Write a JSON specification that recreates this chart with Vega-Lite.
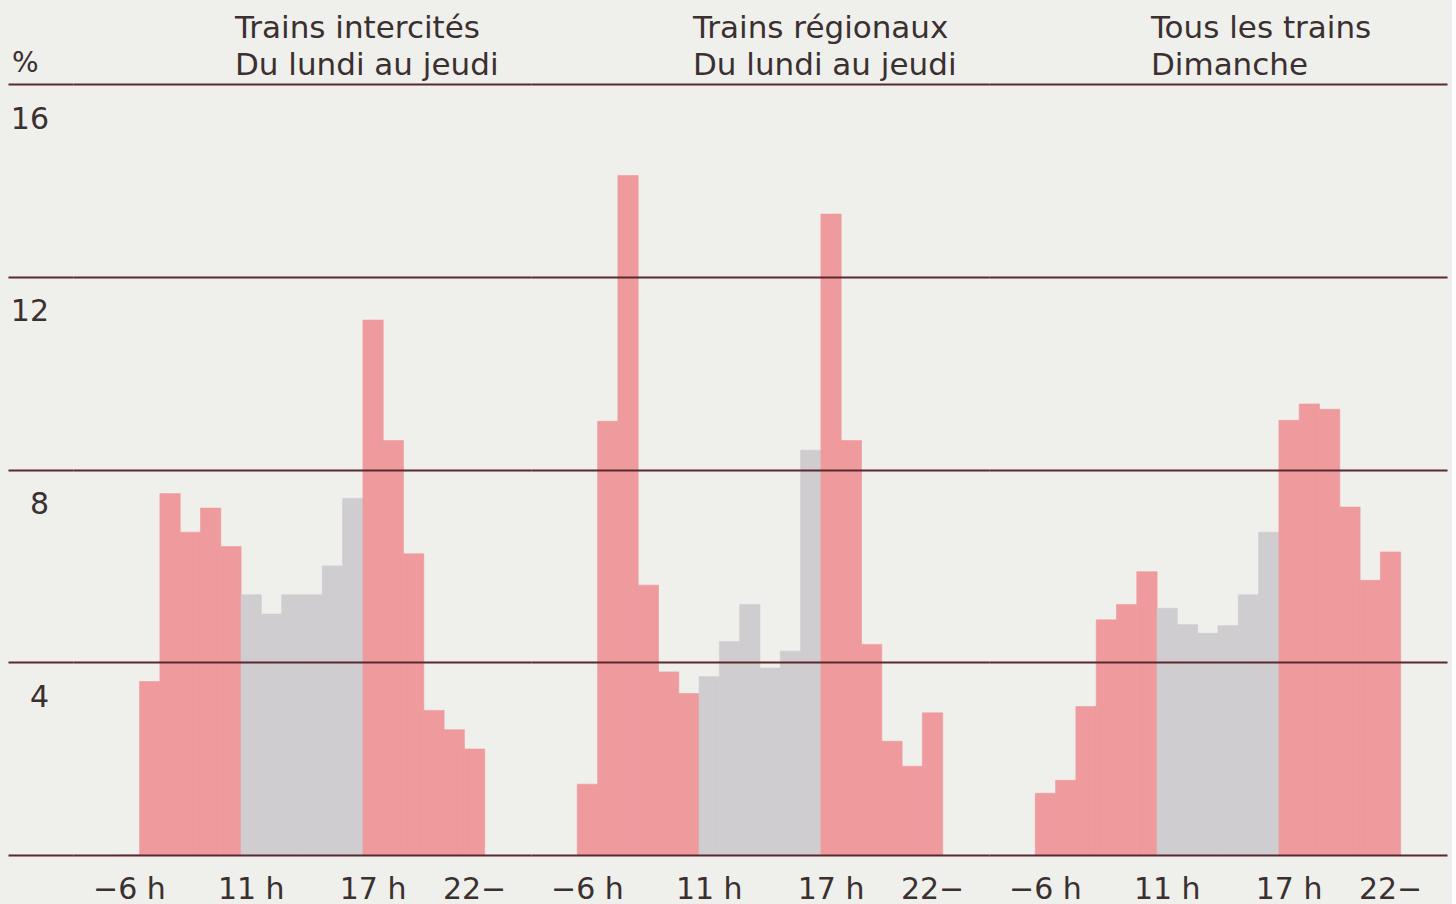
{
  "$schema": "https://vega.github.io/schema/vega-lite/v6.json",
  "background": "#efefec",
  "padding": {"left": 7, "top": 13, "right": 5, "bottom": 5},
  "datasets": {
    "trains": [
      {"p": "Trains intercités\nDu lundi au jeudi", "s": 1, "v": 0, "t": "pointe"},
      {"p": "Trains intercités\nDu lundi au jeudi", "s": 2, "v": 3.6, "t": "pointe"},
      {"p": "Trains intercités\nDu lundi au jeudi", "s": 3, "v": 7.5, "t": "pointe"},
      {"p": "Trains intercités\nDu lundi au jeudi", "s": 4, "v": 6.7, "t": "pointe"},
      {"p": "Trains intercités\nDu lundi au jeudi", "s": 5, "v": 7.2, "t": "pointe"},
      {"p": "Trains intercités\nDu lundi au jeudi", "s": 6, "v": 6.4, "t": "pointe"},
      {"p": "Trains intercités\nDu lundi au jeudi", "s": 7, "v": 5.4, "t": "creuse"},
      {"p": "Trains intercités\nDu lundi au jeudi", "s": 8, "v": 5.0, "t": "creuse"},
      {"p": "Trains intercités\nDu lundi au jeudi", "s": 9, "v": 5.4, "t": "creuse"},
      {"p": "Trains intercités\nDu lundi au jeudi", "s": 10, "v": 5.4, "t": "creuse"},
      {"p": "Trains intercités\nDu lundi au jeudi", "s": 11, "v": 6.0, "t": "creuse"},
      {"p": "Trains intercités\nDu lundi au jeudi", "s": 12, "v": 7.4, "t": "creuse"},
      {"p": "Trains intercités\nDu lundi au jeudi", "s": 13, "v": 11.1, "t": "pointe"},
      {"p": "Trains intercités\nDu lundi au jeudi", "s": 14, "v": 8.6, "t": "pointe"},
      {"p": "Trains intercités\nDu lundi au jeudi", "s": 15, "v": 6.25, "t": "pointe"},
      {"p": "Trains intercités\nDu lundi au jeudi", "s": 16, "v": 3.0, "t": "pointe"},
      {"p": "Trains intercités\nDu lundi au jeudi", "s": 17, "v": 2.6, "t": "pointe"},
      {"p": "Trains intercités\nDu lundi au jeudi", "s": 18, "v": 2.2, "t": "pointe"},
      {"p": "Trains régionaux\nDu lundi au jeudi", "s": 1, "v": 1.47, "t": "pointe"},
      {"p": "Trains régionaux\nDu lundi au jeudi", "s": 2, "v": 9.0, "t": "pointe"},
      {"p": "Trains régionaux\nDu lundi au jeudi", "s": 3, "v": 14.1, "t": "pointe"},
      {"p": "Trains régionaux\nDu lundi au jeudi", "s": 4, "v": 5.6, "t": "pointe"},
      {"p": "Trains régionaux\nDu lundi au jeudi", "s": 5, "v": 3.8, "t": "pointe"},
      {"p": "Trains régionaux\nDu lundi au jeudi", "s": 6, "v": 3.35, "t": "pointe"},
      {"p": "Trains régionaux\nDu lundi au jeudi", "s": 7, "v": 3.7, "t": "creuse"},
      {"p": "Trains régionaux\nDu lundi au jeudi", "s": 8, "v": 4.43, "t": "creuse"},
      {"p": "Trains régionaux\nDu lundi au jeudi", "s": 9, "v": 5.2, "t": "creuse"},
      {"p": "Trains régionaux\nDu lundi au jeudi", "s": 10, "v": 3.88, "t": "creuse"},
      {"p": "Trains régionaux\nDu lundi au jeudi", "s": 11, "v": 4.23, "t": "creuse"},
      {"p": "Trains régionaux\nDu lundi au jeudi", "s": 12, "v": 8.4, "t": "creuse"},
      {"p": "Trains régionaux\nDu lundi au jeudi", "s": 13, "v": 13.3, "t": "pointe"},
      {"p": "Trains régionaux\nDu lundi au jeudi", "s": 14, "v": 8.6, "t": "pointe"},
      {"p": "Trains régionaux\nDu lundi au jeudi", "s": 15, "v": 4.37, "t": "pointe"},
      {"p": "Trains régionaux\nDu lundi au jeudi", "s": 16, "v": 2.36, "t": "pointe"},
      {"p": "Trains régionaux\nDu lundi au jeudi", "s": 17, "v": 1.84, "t": "pointe"},
      {"p": "Trains régionaux\nDu lundi au jeudi", "s": 18, "v": 2.95, "t": "pointe"},
      {"p": "Tous les trains\nDimanche", "s": 1, "v": 1.28, "t": "pointe"},
      {"p": "Tous les trains\nDimanche", "s": 2, "v": 1.55, "t": "pointe"},
      {"p": "Tous les trains\nDimanche", "s": 3, "v": 3.08, "t": "pointe"},
      {"p": "Tous les trains\nDimanche", "s": 4, "v": 4.88, "t": "pointe"},
      {"p": "Tous les trains\nDimanche", "s": 5, "v": 5.2, "t": "pointe"},
      {"p": "Tous les trains\nDimanche", "s": 6, "v": 5.88, "t": "pointe"},
      {"p": "Tous les trains\nDimanche", "s": 7, "v": 5.12, "t": "creuse"},
      {"p": "Tous les trains\nDimanche", "s": 8, "v": 4.78, "t": "creuse"},
      {"p": "Tous les trains\nDimanche", "s": 9, "v": 4.6, "t": "creuse"},
      {"p": "Tous les trains\nDimanche", "s": 10, "v": 4.76, "t": "creuse"},
      {"p": "Tous les trains\nDimanche", "s": 11, "v": 5.4, "t": "creuse"},
      {"p": "Tous les trains\nDimanche", "s": 12, "v": 6.7, "t": "creuse"},
      {"p": "Tous les trains\nDimanche", "s": 13, "v": 9.02, "t": "pointe"},
      {"p": "Tous les trains\nDimanche", "s": 14, "v": 9.36, "t": "pointe"},
      {"p": "Tous les trains\nDimanche", "s": 15, "v": 9.25, "t": "pointe"},
      {"p": "Tous les trains\nDimanche", "s": 16, "v": 7.22, "t": "pointe"},
      {"p": "Tous les trains\nDimanche", "s": 17, "v": 5.7, "t": "pointe"},
      {"p": "Tous les trains\nDimanche", "s": 18, "v": 6.29, "t": "pointe"}
    ]
  },
  "data": {"name": "trains"},
  "facet": {
    "column": {
      "field": "p",
      "type": "nominal",
      "sort": ["Trains intercités\nDu lundi au jeudi", "Trains régionaux\nDu lundi au jeudi", "Tous les trains\nDimanche"],
      "header": null,
      "title": null
    }
  },
  "spacing": 0,
  "spec": {
    "width": 458,
    "height": 771,
    "layer": [
      {
        "mark": {"type": "bar", "strokeWidth": 0.6},
        "encoding": {
          "x": {
            "field": "s",
            "type": "ordinal",
            "scale": {
              "domain": [-1, 0, 1, 2, 3, 4, 5, 6, 7, 8, 9, 10, 11, 12, 13, 14, 15, 16, 17, 18, 19, 20],
              "paddingInner": 0,
              "paddingOuter": 0.28
            },
            "axis": {
              "values": [1, 7, 13, 18],
              "labelExpr": "datum.value == 1 ? '−6 h' : datum.value == 7 ? '11 h' : datum.value == 13 ? '17 h' : '22−'",
              "domain": false,
              "ticks": false,
              "grid": false,
              "labelAngle": 0,
              "labelAlign": "center",
              "labelBaseline": "alphabetic",
              "labelPadding": 42,
              "labelFont": "DejaVu Sans",
              "labelFontSize": 30,
              "labelColor": "#3a3030",
              "title": null
            }
          },
          "y": {
            "field": "v",
            "type": "quantitative",
            "scale": {"domain": [0, 16], "nice": false, "zero": true},
            "axis": {
              "values": [0, 4, 8, 12, 16],
              "zindex": 1,
              "domain": false,
              "grid": true,
              "gridColor": "#5a2830",
              "gridWidth": 2,
              "gridOpacity": 1,
              "tickSize": 65,
              "tickColor": "#5a2830",
              "tickWidth": 2,
              "labelExpr": "datum.value == 0 ? '' : datum.label",
              "labelAlign": "right",
              "labelBaseline": "middle",
              "labelPadding": -40.5,
              "labelOffset": 35,
              "labelFlush": false,
              "labelOverlap": false,
              "labelFont": "DejaVu Sans",
              "labelFontSize": 30,
              "labelColor": "#3a3030",
              "title": "%",
              "titleAngle": 0,
              "titleAlign": "left",
              "titleBaseline": "alphabetic",
              "titleX": -61.5,
              "titleY": -13,
              "titleFont": "DejaVu Sans",
              "titleFontSize": 28,
              "titleFontWeight": "normal",
              "titleColor": "#3a3030"
            }
          },
          "color": {
            "field": "t",
            "type": "nominal",
            "scale": {"domain": ["pointe", "creuse"], "range": ["#ef9a9c", "#cfcdcf"]},
            "legend": null
          },
          "stroke": {
            "field": "t",
            "type": "nominal",
            "scale": {"domain": ["pointe", "creuse"], "range": ["#ef9a9c", "#cfcdcf"]},
            "legend": null
          }
        }
      },
      {
        "transform": [{"filter": "datum.s == 1"}],
        "mark": {
          "type": "text",
          "align": "left",
          "baseline": "alphabetic",
          "lineBreak": "\n",
          "lineHeight": 37,
          "font": "DejaVu Sans",
          "fontSize": 31,
          "color": "#3a3030",
          "dx": 4,
          "dy": -46
        },
        "encoding": {
          "x": {"datum": 6, "type": "ordinal"},
          "y": {"datum": 16, "type": "quantitative"},
          "text": {"field": "p"}
        }
      }
    ]
  },
  "config": {
    "view": {"stroke": null}
  }
}
